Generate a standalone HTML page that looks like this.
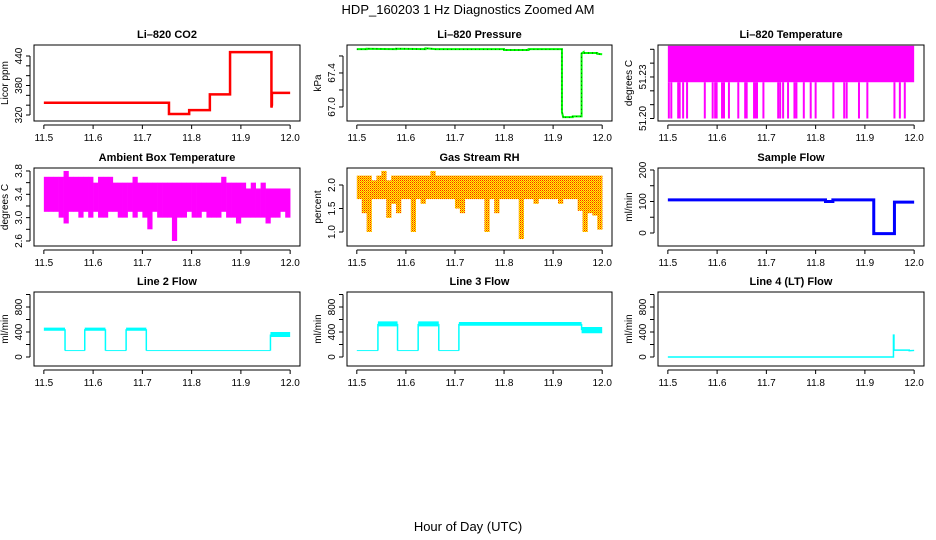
<!DOCTYPE html>
<html><head><meta charset="utf-8"><style>
html,body{margin:0;padding:0;background:#fff}
svg{display:block;font-family:"Liberation Sans",sans-serif}
</style></head><body>
<svg id="c" width="936" height="540" viewBox="0 0 936 540">
<defs><pattern id="rhpat" width="2" height="2" patternUnits="userSpaceOnUse"><rect width="2" height="2" fill="#ffff00"/><rect width="1" height="1" fill="#ff2000"/><rect x="1" y="1" width="1" height="1" fill="#ff8000"/></pattern></defs>
<text x="468" y="14" text-anchor="middle" font-size="13">HDP_160203  1 Hz Diagnostics Zoomed AM</text>
<text x="468" y="531" text-anchor="middle" font-size="13">Hour of Day (UTC)</text>
</svg>
<script>
// ---- data ----
const xTicks = [11.5, 11.6, 11.7, 11.8, 11.9, 12.0];
const xTickLabels = ["11.5", "11.6", "11.7", "11.8", "11.9", "12.0"];
const co2T = [11.5, 11.754, 11.754, 11.795, 11.795, 11.837, 11.837, 11.878, 11.878, 11.962, 11.962, 11.963, 11.963, 12.0];
const co2V = [345, 345, 322, 322, 330, 330, 362, 362, 448, 448, 335, 340, 365, 365];
const presT = [11.5, 11.52, 11.52, 11.58, 11.58, 11.64, 11.64, 11.66, 11.66, 11.80, 11.80, 11.85, 11.85, 11.918, 11.918, 11.921, 11.921, 11.94, 11.94, 11.958, 11.958, 11.962, 11.962, 11.99, 11.99, 12.0];
const presV = [67.68, 67.68, 67.685, 67.68, 67.685, 67.68, 67.69, 67.68, 67.68, 67.68, 67.67, 67.67, 67.68, 67.68, 66.94, 66.87, 66.88, 66.88, 66.89, 66.89, 67.63, 67.645, 67.635, 67.635, 67.625, 67.62];
const tempHigh = 51.2525;
const tempMid = 51.2262;
const tempLow = 51.2000;
const tempDropTimes = [11.502, 11.507, 11.521, 11.524, 11.531, 11.539, 11.575, 11.591, 11.596, 11.599, 11.610, 11.614, 11.624, 11.643, 11.657, 11.660, 11.675, 11.678, 11.681, 11.694, 11.724, 11.728, 11.734, 11.744, 11.757, 11.761, 11.776, 11.790, 11.800, 11.836, 11.858, 11.863, 11.888, 11.905, 11.960, 11.971, 11.981];
const ambHigh = [3.7,3.7,3.7,3.7,3.8,3.7,3.7,3.7,3.7,3.7,3.6,3.7,3.7,3.7,3.6,3.6,3.6,3.6,3.7,3.6,3.6,3.6,3.6,3.6,3.6,3.6,3.6,3.6,3.6,3.6,3.6,3.6,3.6,3.6,3.6,3.6,3.7,3.6,3.6,3.6,3.6,3.5,3.6,3.5,3.6,3.5,3.5,3.5,3.5,3.5];
const ambLow = [3.1,3.1,3.1,3.0,2.9,3.1,3.1,3.0,3.1,3.0,3.1,3.0,3.0,3.1,3.1,3.0,3.0,3.1,3.0,3.1,3.0,2.8,3.1,3.0,3.0,3.0,2.6,3.0,3.0,3.1,3.0,3.0,3.1,3.0,3.0,3.0,3.1,3.0,3.0,2.9,3.0,3.0,3.0,3.0,3.0,2.9,3.0,3.0,3.1,3.0];
const rhHigh = [2.2,2.2,2.2,2.1,2.2,2.3,2.1,2.2,2.2,2.2,2.2,2.2,2.2,2.2,2.2,2.3,2.2,2.2,2.2,2.2,2.2,2.2,2.2,2.2,2.2,2.2,2.2,2.2,2.2,2.2,2.2,2.2,2.2,2.2,2.2,2.2,2.2,2.2,2.2,2.2,2.2,2.2,2.2,2.2,2.2,2.2,2.2,2.2,2.2,2.2];
const rhLow = [1.7,1.4,1.0,1.7,1.7,1.7,1.3,1.6,1.4,1.7,1.7,1.0,1.7,1.6,1.7,1.7,1.7,1.7,1.7,1.7,1.5,1.4,1.7,1.7,1.7,1.7,1.0,1.7,1.4,1.7,1.7,1.7,1.7,0.85,1.7,1.7,1.6,1.7,1.7,1.7,1.7,1.6,1.7,1.7,1.7,1.45,1.0,1.4,1.35,1.05];
const flowT = [11.5, 11.82, 11.82, 11.835, 11.835, 11.918, 11.918, 11.96, 11.96, 12.0];
const flowV = [105, 105, 100, 100, 105, 105, -2, -2, 98, 98];
const l2Start = [11.5, 11.543, 11.583, 11.625, 11.667, 11.708, 11.96];
const l2End = [11.543, 11.583, 11.625, 11.667, 11.708, 11.96, 12.0];
const l2Lo = [420, 95, 420, 95, 420, 95, 320];
const l2Hi = [470, 110, 470, 110, 470, 110, 400];
const l3Start = [11.5, 11.543, 11.583, 11.625, 11.667, 11.708, 11.958];
const l3End = [11.543, 11.583, 11.625, 11.667, 11.708, 11.958, 12.0];
const l3Lo = [95, 490, 95, 490, 95, 500, 380];
const l3Hi = [110, 570, 110, 570, 110, 560, 480];
const l4T = [11.5, 11.958, 11.958, 11.959, 11.959, 11.99, 11.99, 12.0];
const l4V = [0, 0, 350, 350, 110, 110, 100, 105];

// ---- layout ----
const svg = document.getElementById('c');
const NS = 'http://www.w3.org/2000/svg';
const cols = [[34, 300], [347, 612], [658, 924]];
const rows = [[45, 121], [168, 246], [292, 366]];
function mk(tag, attrs, name) {
  const el = document.createElementNS(NS, tag);
  for (const k in attrs) el.setAttribute(k, attrs[k]);
  
  
  svg.appendChild(el);
  return el;
}
function panel(ci, ri, key, title, ylab, ydom, ticks, labels) {
  const [x0, x1] = cols[ci], [y0, y1] = rows[ri];
  const sx = t => x0 + (t - 11.48) / 0.54 * (x1 - x0);
  const sy = v => y1 - (v - ydom[0]) / (ydom[1] - ydom[0]) * (y1 - y0);
  const t = mk('text', {x: (x0 + x1) / 2, y: y0 - 7, 'text-anchor': 'middle', 'font-size': 11, 'font-weight': 'bold'}, key + '-title');
  t.textContent = title;
  mk('line', {x1: sx(11.5), x2: sx(12.0), y1: y1 + 4, y2: y1 + 4, stroke: '#000'}, key + '-x-axis');
  xTicks.forEach((v, i) => {
    mk('line', {x1: sx(v), x2: sx(v), y1: y1 + 4, y2: y1 + 8, stroke: '#000'}, key + '-x-tick');
    const l = mk('text', {x: sx(v), y: y1 + 20, 'text-anchor': 'middle', 'font-size': 10}, key + '-x-tick-label');
    l.textContent = xTickLabels[i];
  });
  const ax = x0 - 4;
  mk('line', {x1: ax, x2: ax, y1: sy(ticks[0]), y2: sy(ticks[ticks.length - 1]), stroke: '#000'}, key + '-y-axis');
  ticks.forEach(v => mk('line', {x1: ax - 4, x2: ax, y1: sy(v), y2: sy(v), stroke: '#000'}, key + '-y-tick'));
  labels.forEach(v => {
    const l = mk('text', {x: 0, y: 0, 'text-anchor': 'middle', 'font-size': 10, transform: `translate(${ax - 8},${sy(v)}) rotate(-90)`}, key + '-y-tick-label');
    l.textContent = String(v);
  });
  const yl = mk('text', {x: 0, y: 0, 'text-anchor': 'middle', 'font-size': 10, transform: `translate(${x0 - 26},${(y0 + y1) / 2}) rotate(-90)`}, key + '-y-axis-title');
  yl.textContent = ylab;
  return {sx, sy, box: () => mk('rect', {x: x0, y: y0, width: x1 - x0, height: y1 - y0, fill: 'none', stroke: '#000'}, key + '-plot-box')};
}
function line(p, T, V, color, w, name, dash) {
  const a = {points: T.map((t, i) => p.sx(t) + ',' + p.sy(V[i])).join(' '), fill: 'none', stroke: color, 'stroke-width': w};
  if (dash) a['stroke-dasharray'] = dash;
  mk('polyline', a, name);
}
function bins(p, hi, lo, fill, name) {
  const n = hi.length;
  hi.forEach((h, i) => {
    const a = p.sx(11.5 + i * 0.5 / n), b = p.sx(11.5 + (i + 1) * 0.5 / n);
    mk('rect', {x: a, y: p.sy(h), width: b - a + 0.3, height: p.sy(lo[i]) - p.sy(h), fill: fill}, name);
  });
}
function blocks(p, S, E, lo, hi, name) {
  S.forEach((s, i) => {
    mk('rect', {x: p.sx(s), y: p.sy(hi[i]), width: p.sx(E[i]) - p.sx(s), height: p.sy(lo[i]) - p.sy(hi[i]), fill: '#00ffff'}, name);
    if (i > 0) mk('line', {x1: p.sx(s), x2: p.sx(s), y1: p.sy((lo[i - 1] + hi[i - 1]) / 2), y2: p.sy((lo[i] + hi[i]) / 2), stroke: '#00ffff', 'stroke-width': 1.5}, name + '-step');
  });
}

let p;
p = panel(0, 0, 'co2', 'Li\u2013820 CO2', 'Licor ppm', [307.8, 462.4], [320,340,360,380,400,420,440], [320,380,440]);
line(p, co2T, co2V, '#ff0000', 2.5, 'co2-line'); p.box();
p = panel(1, 0, 'pressure', 'Li\u2013820 Pressure', 'kPa', [66.835, 67.729], [67.0,67.2,67.4,67.6], ['67.0','67.4']);
line(p, presT, presV, '#00ff00', 2, 'pressure-line');
line(p, presT, presV, '#000', 0.7, 'pressure-points', '1 3'); p.box();
p = panel(2, 0, 'licor-temp', 'Li\u2013820 Temperature', 'degrees C', [51.1982, 51.2531], [51.20,51.21,51.22,51.23,51.24,51.25], ['51.20','51.23']);
mk('rect', {x: p.sx(11.5), y: p.sy(tempHigh), width: p.sx(12.0) - p.sx(11.5), height: p.sy(tempMid) - p.sy(tempHigh), fill: '#ff00ff'}, 'licor-temp-band');
tempDropTimes.forEach(t => mk('line', {x1: p.sx(t), x2: p.sx(t), y1: p.sy(tempMid), y2: p.sy(tempLow), stroke: '#ff00ff', 'stroke-width': 2}, 'licor-temp-drop'));
p.box();
p = panel(0, 1, 'ambient', 'Ambient Box Temperature', 'degrees C', [2.514, 3.851], [2.6,2.8,3.0,3.2,3.4,3.6,3.8], ['2.6','3.0','3.4','3.8']);
bins(p, ambHigh, ambLow, '#ff00ff', 'ambient-bin'); p.box();
p = panel(1, 1, 'rh', 'Gas Stream RH', 'percent', [0.702, 2.362], [1.0,1.5,2.0], ['1.0','1.5','2.0']);
bins(p, rhHigh, rhLow, 'url(#rhpat)', 'rh-bin'); p.box();
p = panel(2, 1, 'sample-flow', 'Sample Flow', 'ml/min', [-41.3, 206.3], [0,50,100,150,200], [0,100,200]);
line(p, flowT, flowV, '#0000ff', 3, 'sample-flow-line'); p.box();
const fdom = [-144, 1040], fticks = [0,200,400,600,800,1000], flab = [0,400,800];
p = panel(0, 2, 'line2', 'Line 2 Flow', 'ml/min', fdom, fticks, flab);
blocks(p, l2Start, l2End, l2Lo, l2Hi, 'line2-segment'); p.box();
p = panel(1, 2, 'line3', 'Line 3 Flow', 'ml/min', fdom, fticks, flab);
blocks(p, l3Start, l3End, l3Lo, l3Hi, 'line3-segment'); p.box();
p = panel(2, 2, 'line4', 'Line 4 (LT) Flow', 'ml/min', fdom, fticks, flab);
line(p, l4T, l4V, '#00ffff', 1.5, 'line4-line'); p.box();
</script>
</body></html>
